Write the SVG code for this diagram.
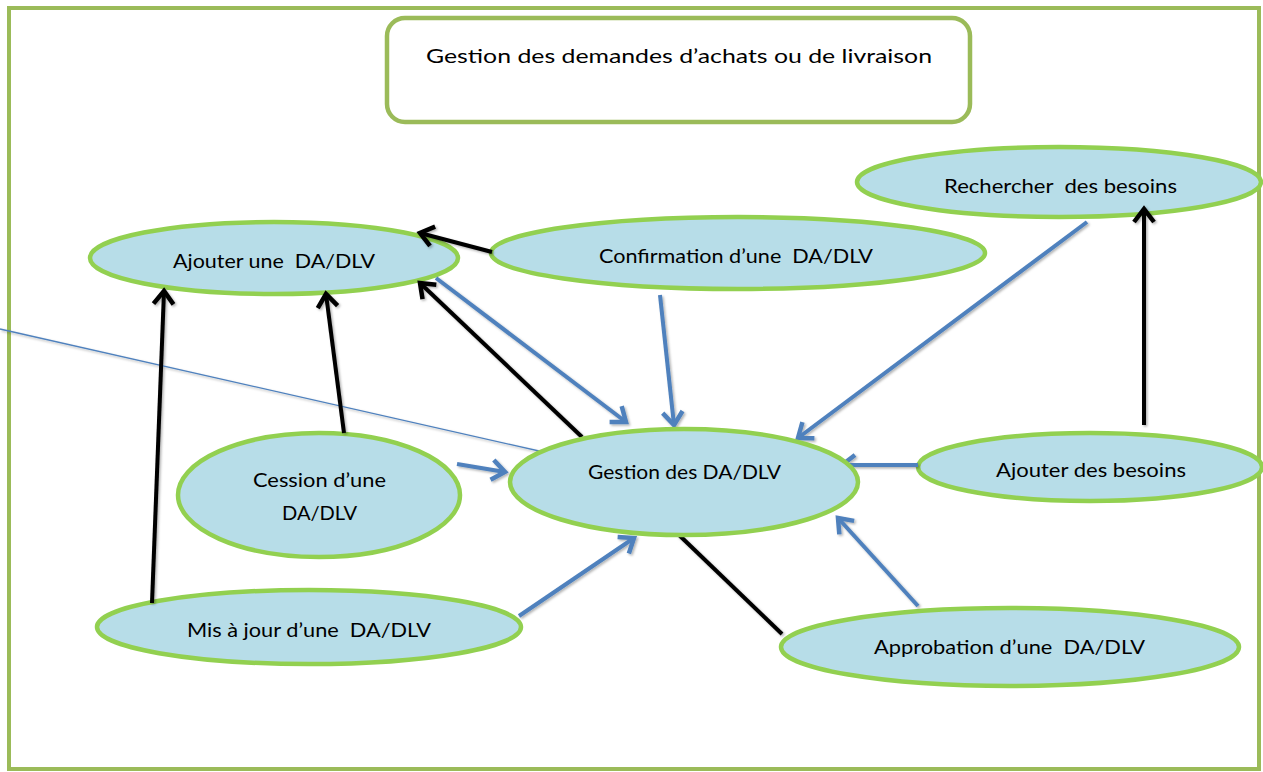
<svg xmlns="http://www.w3.org/2000/svg" width="1263" height="772" viewBox="0 0 1263 772" xml:space="preserve">
  <style>
    .frame { fill: none; stroke: #9bbb59; stroke-width: 4; }
    .node ellipse { fill: #b7dde8; stroke: #92d050; stroke-width: 4.5; }
    .lbl { font-family: Lato, "Open Sans", "Liberation Sans", sans-serif; font-size: 20px; fill: #000; white-space: pre; }
    .blk { stroke: #000; stroke-width: 4; fill: none; }
    .blu { stroke: #4f81bd; stroke-width: 4; fill: none; }
    .thin { stroke: #4f81bd; stroke-width: 1.3; fill: none; }
  </style>
  <defs>
    <marker id="ahBlack" markerUnits="userSpaceOnUse" viewBox="0 0 20 26" markerWidth="20" markerHeight="26" refX="16" refY="13" orient="auto">
      <path d="M3,3 L16,13 L3,23" fill="none" stroke="#000" stroke-width="4.5"/>
    </marker>
    <marker id="ahBlue" markerUnits="userSpaceOnUse" viewBox="0 0 20 26" markerWidth="20" markerHeight="26" refX="16" refY="13" orient="auto">
      <path d="M3,3 L16,13 L3,23" fill="none" stroke="#4f81bd" stroke-width="4.5"/>
    </marker>
    <filter id="shade" x="-10%" y="-10%" width="120%" height="120%">
      <feDropShadow dx="1.5" dy="1.5" stdDeviation="1.2" flood-color="#000" flood-opacity="0.3"/>
    </filter>
  </defs>

  <!-- outer frame -->
  <rect class="frame" x="9" y="8" width="1250" height="761"/>

  <!-- title box -->
  <g id="title">
    <rect x="387" y="18" width="583" height="104" rx="18" ry="18" fill="#fff" stroke="#9bbb59" stroke-width="4.5"/>
    <text class="lbl" x="426" y="63" textLength="506" lengthAdjust="spacingAndGlyphs">Gestion des demandes d’achats ou de livraison</text>
  </g>

  <!-- use-case nodes -->
  <g id="ajouter-da" class="node">
    <ellipse cx="274" cy="258" rx="184" ry="36"/>
    <text class="lbl" x="173" y="268" textLength="202" lengthAdjust="spacingAndGlyphs">Ajouter une  DA/DLV</text>
  </g>
  <g id="confirmation" class="node">
    <ellipse cx="738" cy="253" rx="247" ry="36"/>
    <text class="lbl" x="599" y="263" textLength="274" lengthAdjust="spacingAndGlyphs">Confirmation d’une  DA/DLV</text>
  </g>
  <g id="rechercher" class="node">
    <ellipse cx="1059" cy="182" rx="202" ry="35"/>
    <text class="lbl" x="944" y="193" textLength="233" lengthAdjust="spacingAndGlyphs">Rechercher  des besoins</text>
  </g>
  <g id="cession" class="node">
    <ellipse cx="319" cy="495" rx="141" ry="62"/>
    <text class="lbl" x="253" y="487" textLength="133" lengthAdjust="spacingAndGlyphs">Cession d’une</text>
    <text class="lbl" x="282" y="520" textLength="75" lengthAdjust="spacingAndGlyphs">DA/DLV</text>
  </g>
  <g id="ajouter-besoins" class="node">
    <ellipse cx="1090" cy="467" rx="172" ry="34"/>
    <text class="lbl" x="996" y="477" textLength="190" lengthAdjust="spacingAndGlyphs">Ajouter des besoins</text>
  </g>
  <g id="mise-a-jour" class="node">
    <ellipse cx="309" cy="627" rx="212" ry="37"/>
    <text class="lbl" x="187" y="637" textLength="244" lengthAdjust="spacingAndGlyphs">Mis à jour d’une  DA/DLV</text>
  </g>
  <g id="approbation" class="node">
    <ellipse cx="1010" cy="647" rx="229" ry="39"/>
    <text class="lbl" x="874" y="654" textLength="271" lengthAdjust="spacingAndGlyphs">Approbation d’une  DA/DLV</text>
  </g>

  <!-- connectors -->
  <g id="connectors" filter="url(#shade)">
    <line class="thin" x1="0" y1="329" x2="548" y2="453"/>
    <!-- black: towards Ajouter une DA/DLV -->
    <line class="blk" x1="492" y1="252" x2="420" y2="233" marker-end="url(#ahBlack)"/>
    <line class="blk" x1="582" y1="437" x2="420" y2="283" marker-end="url(#ahBlack)"/>
    <line class="blk" x1="344" y1="433" x2="326" y2="294" marker-end="url(#ahBlack)"/>
    <line class="blk" x1="152" y1="603" x2="164" y2="291" marker-end="url(#ahBlack)"/>
    <!-- black: besoins, approbation -->
    <line class="blk" x1="1144" y1="425" x2="1144" y2="209" marker-end="url(#ahBlack)"/>
    <line class="blk" x1="678" y1="534" x2="782" y2="634"/>
    <!-- blue: towards Gestion des DA/DLV -->
    <line class="blu" x1="436" y1="278" x2="626" y2="422" marker-end="url(#ahBlue)"/>
    <line class="blu" x1="660" y1="295" x2="674" y2="425" marker-end="url(#ahBlue)"/>
    <line class="blu" x1="1087" y1="222" x2="798" y2="438" marker-end="url(#ahBlue)"/>
    <line class="blu" x1="918" y1="465" x2="842" y2="465" marker-end="url(#ahBlue)"/>
    <line class="blu" x1="457" y1="464" x2="505" y2="472" marker-end="url(#ahBlue)"/>
    <line class="blu" x1="519" y1="616" x2="634" y2="538" marker-end="url(#ahBlue)"/>
    <line class="blu" x1="918" y1="606" x2="838" y2="518" marker-end="url(#ahBlue)"/>
  </g>

  <!-- central node, drawn over the incoming arrow ends -->
  <g id="gestion" class="node">
    <ellipse cx="684" cy="482" rx="174" ry="53"/>
    <text class="lbl" x="588" y="479" textLength="193" lengthAdjust="spacingAndGlyphs">Gestion des DA/DLV</text>
  </g>
</svg>
